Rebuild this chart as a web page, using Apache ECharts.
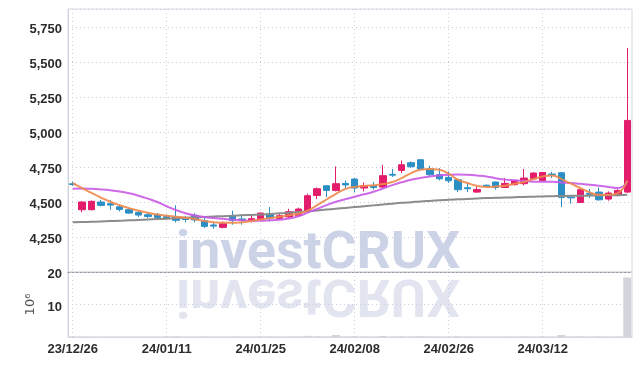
<!DOCTYPE html>
<html>
<head>
    <meta charset="utf-8">
    <title>investCRUX candlestick</title>
    <script src="https://cdn.jsdelivr.net/npm/echarts@6/dist/echarts.min.js"></script>
</head>
<body style="margin:0">
    <div id="main" style="width: 642px;height:366px;"></div>
    <script type="text/javascript">
        var dates = [
            '23/12/26', '23/12/27', '23/12/28', '24/01/02', '24/01/03', '24/01/04', '24/01/05', '24/01/08', '24/01/09', '24/01/10',
            '24/01/11', '24/01/12', '24/01/15', '24/01/16', '24/01/17', '24/01/18', '24/01/19', '24/01/22', '24/01/23', '24/01/24',
            '24/01/25', '24/01/26', '24/01/29', '24/01/30', '24/01/31', '24/02/01', '24/02/02', '24/02/05', '24/02/06', '24/02/07',
            '24/02/08', '24/02/13', '24/02/14', '24/02/15', '24/02/16', '24/02/19', '24/02/20', '24/02/21', '24/02/22', '24/02/23',
            '24/02/26', '24/02/27', '24/02/28', '24/02/29', '24/03/04', '24/03/05', '24/03/06', '24/03/07', '24/03/08', '24/03/11',
            '24/03/12', '24/03/13', '24/03/14', '24/03/15', '24/03/18', '24/03/19', '24/03/20', '24/03/21', '24/03/22', '24/03/25'
        ];

        // [open, close, low, high]
        var ohlc = [
            [4630, 4625, 4615, 4645], [4445, 4500, 4426, 4505], [4445, 4505, 4440, 4510], [4500, 4476, 4469, 4516],
            [4488, 4478, 4445, 4515], [4466, 4447, 4433, 4481], [4445, 4421, 4416, 4457], [4426, 4407, 4393, 4440],
            [4409, 4397, 4386, 4426], [4409, 4390, 4374, 4421], [4395, 4386, 4374, 4409], [4393, 4369, 4354, 4476],
            [4380, 4375, 4355, 4400], [4405, 4372, 4355, 4420], [4366, 4326, 4314, 4386], [4336, 4328, 4309, 4350],
            [4319, 4345, 4311, 4361], [4402, 4369, 4338, 4438], [4379, 4368, 4338, 4414], [4363, 4381, 4354, 4402],
            [4374, 4421, 4370, 4425], [4416, 4386, 4361, 4464], [4383, 4402, 4374, 4421], [4393, 4431, 4386, 4452],
            [4404, 4450, 4395, 4460], [4433, 4545, 4426, 4560], [4547, 4595, 4521, 4604], [4616, 4583, 4536, 4618],
            [4583, 4631, 4576, 4754], [4633, 4622, 4600, 4654], [4664, 4600, 4569, 4671], [4600, 4616, 4576, 4640],
            [4614, 4604, 4588, 4643], [4607, 4688, 4600, 4766], [4698, 4692, 4679, 4736], [4726, 4766, 4707, 4797],
            [4781, 4752, 4745, 4790], [4802, 4736, 4731, 4803], [4736, 4695, 4683, 4759], [4695, 4666, 4654, 4743],
            [4676, 4652, 4636, 4719], [4659, 4588, 4571, 4662], [4602, 4595, 4571, 4643], [4571, 4590, 4566, 4610],
            [4620, 4612, 4608, 4625], [4643, 4604, 4588, 4645], [4604, 4633, 4600, 4671], [4624, 4652, 4619, 4660],
            [4631, 4671, 4619, 4736], [4666, 4707, 4660, 4712], [4654, 4711, 4650, 4715], [4700, 4695, 4671, 4716],
            [4709, 4533, 4464, 4714], [4536, 4530, 4488, 4538], [4497, 4588, 4495, 4590], [4562, 4555, 4529, 4593],
            [4571, 4516, 4509, 4604], [4521, 4564, 4509, 4576], [4547, 4583, 4540, 4590], [4571, 5083, 4565, 5600]
        ];

        var ma5 = [
            4635, 4600, 4565, 4532, 4502, 4477, 4456, 4438, 4423, 4411,
            4402, 4395, 4388, 4377, 4365, 4356, 4351, 4351, 4356, 4365,
            4375, 4385, 4395, 4405, 4416, 4438, 4478, 4518, 4558, 4593,
            4608, 4615, 4620, 4628, 4643, 4671, 4706, 4731, 4736, 4731,
            4702, 4659, 4636, 4616, 4607, 4611, 4616, 4631, 4643, 4664,
            4683, 4690, 4664, 4631, 4600, 4569, 4552, 4552, 4564, 4654
        ];
        var ma20 = [
            4595, 4596, 4594, 4590, 4584, 4575, 4562, 4545, 4524, 4500,
            4470, 4442, 4420, 4404, 4393, 4386, 4380, 4374, 4369, 4366,
            4366, 4369, 4374, 4382, 4398, 4424, 4450, 4478, 4502, 4520,
            4538, 4555, 4573, 4597, 4621, 4641, 4659, 4672, 4683, 4690,
            4695, 4697, 4695, 4690, 4683, 4670, 4660, 4656, 4652, 4645,
            4645, 4645, 4640, 4636, 4630, 4624, 4616, 4608, 4600, 4645
        ];
        var ma60 = [
            4355, 4357, 4359, 4361, 4364, 4366, 4369, 4372, 4375, 4378,
            4381, 4384, 4387, 4390, 4393, 4396, 4399, 4402, 4405, 4408,
            4411, 4415, 4419, 4424, 4429, 4434, 4440, 4446, 4452, 4458,
            4464, 4470, 4476, 4482, 4488, 4494, 4499, 4504, 4508, 4512,
            4516, 4519, 4522, 4525, 4528, 4530, 4532, 4534, 4536, 4538,
            4540, 4542, 4543, 4544, 4545, 4546, 4547, 4548, 4549, 4552
        ];
        // volume, in millions of shares
        var volume = [
            0.12, 0.15, 0.10, 0.08, 0.11, 0.09, 0.13, 0.10, 0.08, 0.09,
            0.14, 0.20, 0.11, 0.12, 0.15, 0.10, 0.09, 0.16, 0.12, 0.10,
            0.13, 0.17, 0.11, 0.14, 0.18, 0.35, 0.22, 0.20, 0.60, 0.18,
            0.22, 0.15, 0.12, 0.30, 0.14, 0.20, 0.16, 0.22, 0.14, 0.13,
            0.12, 0.21, 0.11, 0.10, 0.09, 0.12, 0.14, 0.13, 0.16, 0.12,
            0.15, 0.10, 0.60, 0.14, 0.20, 0.12, 0.16, 0.11, 0.13, 18.3
        ];

        var upColor = '#e31c6c';
        var downColor = '#2b8fc6';
        var gridLine = { show: true, lineStyle: { color: '#c9cde0', type: [1, 3], width: 1 } };
        var labelFont = {
            fontFamily: '"Liberation Sans", Arial, sans-serif',
            fontWeight: 'bold',
            fontSize: 13,
            color: '#2c2c2c'
        };
        // y labels sit a little below their grid line
        var yRich = { a: Object.assign({ padding: [5, 0, 0, 0] }, labelFont) };

        var myChart = echarts.init(document.getElementById('main'));

        var option = {
            animation: false,
            backgroundColor: '#ffffff',
            grid: [
                { left: 68, right: 10, top: 9, height: 263, show: true, borderColor: '#d6d8e1', borderWidth: 1 },
                { left: 68, right: 10, top: 272, height: 65, show: true, borderColor: '#d6d8e1', borderWidth: 1 }
            ],
            graphic: [
                {
                    // watermark
                    type: 'text', z: -10, x: 176, y: 281, scaleX: 1.05,
                    style: {
                        text: 'investCRUX', fill: '#cdd3e7', verticalAlign: 'bottom',
                        font: 'bold 51px Roboto, sans-serif'
                    }
                },
                {
                    // watermark reflection
                    type: 'text', z: -10, x: 176, y: 267, scaleX: 1.05, scaleY: -1,
                    style: {
                        text: 'investCRUX', fill: '#e2e5f0', verticalAlign: 'bottom',
                        font: 'bold 51px Roboto, sans-serif'
                    }
                }
            ],
            xAxis: [
                {
                    type: 'category', gridIndex: 0, data: dates, boundaryGap: true,
                    axisLine: { show: true, lineStyle: { color: '#9a9aa4', type: [2, 2] } },
                    axisTick: { show: false },
                    axisLabel: { show: false },
                    splitLine: { show: true, interval: 9, alignWithLabel: true, lineStyle: gridLine.lineStyle }
                },
                {
                    type: 'category', gridIndex: 1, data: dates, boundaryGap: true,
                    axisLine: { show: true, lineStyle: { color: '#d6d8e1' } },
                    axisTick: { show: false },
                    axisLabel: Object.assign({ interval: 9, margin: 6 }, labelFont),
                    splitLine: { show: true, interval: 9, alignWithLabel: true, lineStyle: gridLine.lineStyle }
                }
            ],
            yAxis: [
                {
                    type: 'value', gridIndex: 0, min: 4000, max: 5879, interval: 250,
                    axisLine: { show: true, lineStyle: { color: '#d0d3de' } },
                    axisTick: { show: false },
                    splitLine: gridLine,
                    axisLabel: Object.assign({
                        margin: 6,
                        rich: yRich,
                        formatter: function (v) {
                            if (v % 250 !== 0 || v === 4000) return '';
                            return '{a|' + v.toLocaleString('en-US') + '}';
                        }
                    }, labelFont)
                },
                {
                    type: 'value', gridIndex: 1, min: 0, max: 20, interval: 10,
                    axisLine: { show: true, lineStyle: { color: '#d0d3de' } },
                    axisTick: { show: false },
                    splitLine: gridLine,
                    name: '10\u2076',
                    nameLocation: 'middle',
                    nameRotate: 90,
                    nameGap: 25,
                    nameTextStyle: { fontFamily: 'DejaVu Sans', fontSize: 13, color: '#555555' },
                    axisLabel: Object.assign({
                        margin: 6,
                        rich: yRich,
                        formatter: function (v) { return v === 0 ? '' : '{a|' + v + '}'; }
                    }, labelFont)
                }
            ],
            series: [
                {
                    type: 'candlestick', xAxisIndex: 0, yAxisIndex: 0,
                    data: ohlc, barWidth: 7,
                    itemStyle: { color: upColor, color0: downColor, borderColor: upColor, borderColor0: downColor, borderWidth: 1 }
                },
                {
                    type: 'line', name: 'MA60', data: ma60, smooth: true, showSymbol: false,
                    lineStyle: { color: '#8c8c8c', width: 2 }
                },
                {
                    type: 'line', name: 'MA20', data: ma20, smooth: true, showSymbol: false,
                    lineStyle: { color: '#c95ae6', width: 2, opacity: 0.9 }
                },
                {
                    type: 'line', name: 'MA5', data: ma5, smooth: true, showSymbol: false,
                    lineStyle: { color: '#f08a4e', width: 2, opacity: 0.9 }
                },
                {
                    type: 'bar', xAxisIndex: 1, yAxisIndex: 1, data: volume, barWidth: 8,
                    itemStyle: { color: '#d3d3db' }
                }
            ]
        };

        myChart.setOption(option);
    </script>
</body>
</html>
